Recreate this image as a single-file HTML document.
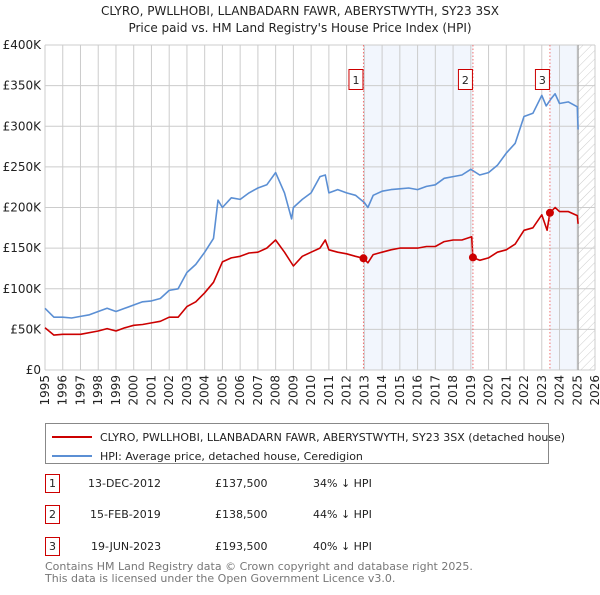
<!DOCTYPE html>
<html><head><meta charset="utf-8">
<style>
body{margin:0;background:#fff;font-family:"Liberation Sans","DejaVu Sans",sans-serif;}
svg text{font-family:"DejaVu Sans","Liberation Sans",sans-serif;}
</style></head>
<body>
<svg id="chart" width="600" height="590" viewBox="0 0 600 590" xmlns="http://www.w3.org/2000/svg">
<defs>
<pattern id="hatch" width="6" height="6" patternUnits="userSpaceOnUse" patternTransform="rotate(45)">
<line x1="0" y1="0" x2="0" y2="6" stroke="#ccc" stroke-width="1"/>
</pattern>
</defs>
<text x="300" y="15" text-anchor="middle" font-size="12" fill="#222">CLYRO, PWLLHOBI, LLANBADARN FAWR, ABERYSTWYTH, SY23 3SX</text>
<text x="300" y="32" text-anchor="middle" font-size="12" fill="#222">Price paid vs. HM Land Registry's House Price Index (HPI)</text>
<g id="shade"></g>
<g id="grid"></g>
<g id="axes"></g>
<g id="series"></g>
<g id="markers"></g>

<rect x="45.5" y="423.5" width="503" height="40" fill="#fff" stroke="#888"/>
<line x1="52" y1="437" x2="92" y2="437" stroke="#cc0000" stroke-width="2"/>
<text x="100" y="441" font-size="11" fill="#222">CLYRO, PWLLHOBI, LLANBADARN FAWR, ABERYSTWYTH, SY23 3SX (detached house)</text>
<line x1="52" y1="456" x2="92" y2="456" stroke="#5b8fd4" stroke-width="2"/>
<text x="100" y="460" font-size="11" fill="#222">HPI: Average price, detached house, Ceredigion</text>

<g font-size="11" fill="#222">
<rect x="45.5" y="474.5" width="14" height="18" fill="#fff" stroke="#cc0000"/>
<text x="52.5" y="487" text-anchor="middle">1</text>
<text x="88" y="487">13-DEC-2012</text><text x="215" y="487">£137,500</text><text x="313" y="487">34% ↓ HPI</text>
<rect x="45.5" y="505.5" width="14" height="18" fill="#fff" stroke="#cc0000"/>
<text x="52.5" y="518" text-anchor="middle">2</text>
<text x="90" y="518">15-FEB-2019</text><text x="215" y="518">£138,500</text><text x="313" y="518">44% ↓ HPI</text>
<rect x="45.5" y="537.5" width="14" height="18" fill="#fff" stroke="#cc0000"/>
<text x="52.5" y="550" text-anchor="middle">3</text>
<text x="91" y="550">19-JUN-2023</text><text x="215" y="550">£193,500</text><text x="313" y="550">40% ↓ HPI</text>
</g>
<text x="45" y="570" font-size="11" fill="#777">Contains HM Land Registry data © Crown copyright and database right 2025.</text>
<text x="45" y="582" font-size="11" fill="#777">This data is licensed under the Open Government Licence v3.0.</text>
</svg>
<script>
const hpiYears=[1995,1995.5,1996,1996.5,1997,1997.5,1998,1998.5,1999,1999.5,2000,2000.5,2001,2001.5,2002,2002.5,2003,2003.5,2004,2004.5,2004.75,2005,2005.5,2006,2006.5,2007,2007.5,2008,2008.5,2008.9,2009,2009.5,2010,2010.5,2010.8,2011,2011.5,2012,2012.5,2013,2013.2,2013.5,2014,2014.5,2015,2015.5,2016,2016.5,2017,2017.5,2018,2018.5,2019,2019.5,2020,2020.5,2021,2021.5,2022,2022.5,2023,2023.25,2023.5,2023.75,2024,2024.5,2025,2025.05];
const hpiValues=[76,65,65,64,66,68,72,76,72,76,80,84,85,88,98,100,120,130,145,162,209,200,212,210,218,224,228,243,218,186,200,210,218,238,240,218,222,218,215,206,200,215,220,222,223,224,222,226,228,236,238,240,247,240,243,252,267,279,312,316,338,325,333,340,328,330,324,296];
const ppYears=[1995,1995.5,1996,1997,1998,1998.5,1999,1999.5,2000,2000.5,2001,2001.5,2002,2002.5,2003,2003.5,2004,2004.5,2005,2005.5,2006,2006.5,2007,2007.5,2008,2008.5,2009,2009.5,2010,2010.5,2010.8,2011,2011.5,2012,2012.5,2012.95,2013.2,2013.5,2014,2014.5,2015,2016,2016.5,2017,2017.5,2018,2018.5,2019.05,2019.12,2019.5,2020,2020.5,2021,2021.5,2022,2022.5,2023,2023.3,2023.46,2023.75,2024,2024.5,2025,2025.05];
const ppValues=[52,43,44,44,48,51,48,52,55,56,58,60,65,65,78,84,95,108,133,138,140,144,145,150,160,145,128,140,145,150,160,148,145,143,140,137.5,132,142,145,148,150,150,152,152,158,160,160,164,138.5,135,138,145,148,155,172,175,191,172,193.5,200,195,195,190,180];
const saleYears=[2012.95,2019.12,2023.46];
const saleValues=[137.5,138.5,193.5];
const saleLabels=["1","2","3"];
const yTicks=[0,50,100,150,200,250,300,350,400];
const yTickLabels=["£0","£50K","£100K","£150K","£200K","£250K","£300K","£350K","£400K"];
const xTicks=[1995,1996,1997,1998,1999,2000,2001,2002,2003,2004,2005,2006,2007,2008,2009,2010,2011,2012,2013,2014,2015,2016,2017,2018,2019,2020,2021,2022,2023,2024,2025,2026];
const dataEnd=2025.05;

const X0=45,X1=595,Y0=370,Y1=45;
const xs=y=>X0+(y-1995)/(2026-1995)*(X1-X0);
const ys=v=>Y0-v/400*(Y0-Y1);
const NS="http://www.w3.org/2000/svg";
function mk(tag,attrs,parent){const e=document.createElementNS(NS,tag);for(const k in attrs)e.setAttribute(k,attrs[k]);parent.appendChild(e);return e;}
const shade=document.getElementById('shade'),grid=document.getElementById('grid'),axes=document.getElementById('axes'),series=document.getElementById('series'),markers=document.getElementById('markers');

let r=mk('rect',{x:xs(saleYears[0]),y:Y1,width:xs(saleYears[1])-xs(saleYears[0]),height:Y0-Y1,fill:'#f2f6fd'},shade);


r=mk('rect',{x:xs(saleYears[2]),y:Y1,width:xs(dataEnd)-xs(saleYears[2]),height:Y0-Y1,fill:'#f2f6fd'},shade);


r=mk('rect',{x:xs(dataEnd),y:Y1,width:X1-xs(dataEnd),height:Y0-Y1,fill:'url(#hatch)'},shade);



yTicks.forEach((v,i)=>{
  const l=mk('line',{x1:X0,x2:X1,y1:ys(v),y2:ys(v),stroke:'#ccc','stroke-width':1},grid);
  
  
  const t=mk('text',{x:X0-4,y:ys(v)+4,'text-anchor':'end','font-size':12,fill:'#222'},axes);
  t.textContent=yTickLabels[i];
  
  
});
xTicks.forEach(yr=>{
  const l=mk('line',{x1:xs(yr),x2:xs(yr),y1:Y1,y2:Y0,stroke:'#ccc','stroke-width':1},grid);
  
  
  const t=mk('text',{x:0,y:0,'text-anchor':'end','font-size':12,fill:'#222',transform:`translate(${xs(yr)+4},${Y0+5}) rotate(-90)`},axes);
  t.textContent=String(yr);
  
  
});
let el=mk('line',{x1:xs(dataEnd),x2:xs(dataEnd),y1:Y1,y2:Y0,stroke:'#999','stroke-width':1},grid);



function path(xa,va){return xa.map((x,i)=>(i?'L':'M')+xs(x).toFixed(1)+','+ys(va[i]).toFixed(1)).join(' ');}
el=mk('path',{d:path(hpiYears,hpiValues),fill:'none',stroke:'#5b8fd4','stroke-width':1.6,'stroke-linejoin':'round'},series);


el=mk('path',{d:path(ppYears,ppValues),fill:'none',stroke:'#cc0000','stroke-width':1.6,'stroke-linejoin':'round'},series);



saleYears.forEach((yr,i)=>{
  const x=xs(yr);
  const l=mk('line',{x1:x,x2:x,y1:Y1,y2:Y0,stroke:'#f07070','stroke-width':1,'stroke-dasharray':'1.5,2'},markers);
  
  
  const b=mk('rect',{x:x-14.5,y:69.5,width:14,height:20,fill:'#fff',stroke:'#cc0000'},markers);
  
  
  const t=mk('text',{x:x-7.5,y:84,'text-anchor':'middle','font-size':11,fill:'#222'},markers);
  t.textContent=saleLabels[i];
  
  
  const c=mk('circle',{cx:x,cy:ys(saleValues[i]),r:4,fill:'#cc0000'},markers);
  
  
});
</script>
</body></html>
